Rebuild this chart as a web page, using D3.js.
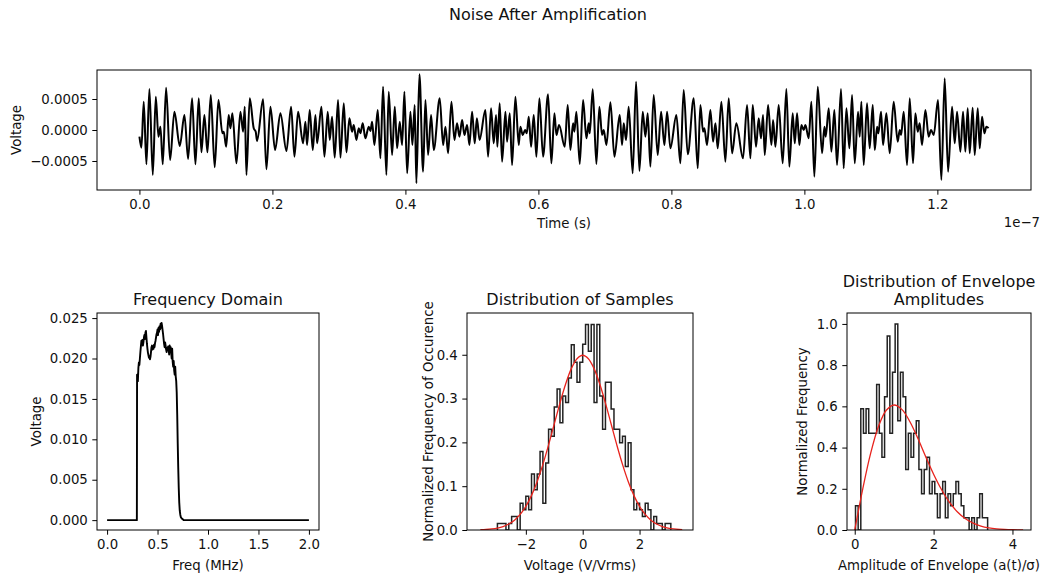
<!DOCTYPE html>
<html>
<head>
<meta charset="utf-8">
<script src="https://cdn.jsdelivr.net/npm/d3@7"></script>
<style>
  body { margin: 0; background: #fff; }
  text { font-family: "DejaVu Sans", sans-serif; fill: #111; }
  .tick text { font-size: 13.3px; }
  .lbl { font-size: 13.3px; }
  .ttl { font-size: 16px; }
</style>
</head>
<body>
<svg id="chart" width="1042" height="578"></svg>
<script>
// ---- data ----
// noise trace: [time (ns), voltage (mV)] at the turning points of the waveform
const noiseTrace = [
  [0,-0.108],[0.30,-0.285],[0.65,0.457],[1.05,-0.554],[1.50,0.661],[2.01,-0.726],[2.46,0.538],[2.86,-0.108],
  [3.16,0.054],[3.51,-0.554],[4.01,0.683],[4.61,-0.484],[5.26,0.296],[6.07,-0.258],[6.77,0.242],[7.32,-0.468],
  [7.92,0.511],[8.42,-0.554],[8.92,0.511],[9.32,-0.360],[9.77,0.242],[10.23,-0.360],[10.73,0.565],[11.32,-0.602],
  [11.88,0.484],[12.48,-0.054],[12.68,-0.027],[13.04,-0.269],[13.43,0.242],[13.68,0.027],[13.98,0.269],[14.59,-0.538],
  [15.19,0.296],[15.59,-0.027],[15.84,0.376],[16.09,-0.726],[16.59,0.511],[17.19,0.027],[17.49,-0.027],[17.69,-0.177],
  [18.60,0.495],[19.10,-0.634],[19.70,0.376],[20.40,-0.323],[21.20,0.269],[22.11,-0.339],[22.81,0.376],[23.31,-0.430],
  [23.86,0.296],[24.61,-0.215],[24.96,0.134],[25.21,-0.242],[25.61,0.323],[26.07,-0.323],[26.47,0.242],[26.72,-0.215],
  [27.37,0.376],[27.82,-0.430],[28.32,0.296],[28.62,-0.161],[28.97,0.215],[29.37,-0.446],[29.87,0.484],[30.23,-0.446],
  [30.73,0.430],[31.13,-0.360],[31.58,0.188],[31.98,-0.027],[32.23,0.081],[32.63,-0.161],[32.98,0.027],[33.23,-0.054],
  [33.58,0.108],[33.98,-0.134],[34.48,0.054],[34.74,-0.016],[34.99,0.134],[35.34,-0.242],[35.84,0.323],[36.24,-0.457],
  [36.64,0.699],[37.14,-0.726],[37.49,0.618],[38.00,-0.403],[38.40,0.376],[38.75,-0.296],[39.15,0.134],[39.50,-0.242],
  [39.85,0.618],[40.26,-0.699],[40.75,0.296],[41.05,-0.242],[41.40,0.403],[41.65,-0.860],[42.11,0.898],[42.66,-0.672],
  [43.01,0.484],[43.41,-0.403],[43.86,0.242],[44.26,-0.323],[45.16,0.511],[45.67,-0.242],[46.02,0.054],[46.42,-0.376],
  [46.92,0.457],[47.37,-0.161],[47.77,0.108],[48.12,-0.108],[48.53,0.161],[48.87,-0.081],[49.28,0.081],[49.62,-0.242],
  [50.03,0.296],[50.42,-0.215],[50.75,0.188],[51.15,-0.161],[52.03,0.323],[52.43,-0.430],[52.88,0.349],[53.28,-0.215],
  [53.63,0.242],[53.83,-0.269],[54.18,0.430],[54.54,-0.511],[55.04,0.296],[55.29,-0.188],[55.69,0.269],[56.04,-0.565],
  [56.54,0.538],[57.04,-0.242],[57.29,0.054],[57.64,-0.081],[58.00,0.0],[58.25,-0.054],[58.55,0.215],[58.90,-0.269],
  [59.30,0.242],[59.70,-0.430],[60.15,0.511],[60.70,-0.430],[61.45,0.575],[61.95,-0.538],[62.41,0.269],[62.71,-0.081],
  [63.11,0.081],[63.96,-0.269],[64.41,0.403],[64.81,-0.323],[65.21,0.108],[65.41,-0.027],[65.71,0.296],[66.22,-0.548],
  [66.72,0.484],[67.22,-0.134],[67.57,0.108],[67.72,-0.054],[68.17,0.656],[68.72,-0.548],[69.17,0.376],[69.57,-0.081],
  [69.82,0.0],[70.23,-0.242],[70.83,0.446],[71.43,-0.430],[72.23,0.242],[72.58,-0.242],[72.83,0.108],[73.18,-0.161],
  [73.58,0.376],[74.18,-0.699],[74.69,0.780],[75.19,-0.661],[75.69,0.296],[76.09,-0.108],[76.44,0.269],[76.84,-0.591],
  [77.34,0.565],[77.94,-0.403],[78.45,0.296],[78.95,-0.242],[79.35,0.296],[79.85,-0.296],[80.75,0.242],[81.35,-0.538],
  [81.85,0.645],[82.46,-0.392],[83.36,0.511],[83.96,-0.618],[84.36,0.403],[84.76,-0.027],[84.96,0.027],[85.36,-0.242],
  [85.86,0.323],[86.27,-0.188],[86.62,0.108],[86.97,-0.296],[87.52,0.457],[88.12,-0.511],[88.62,0.511],[89.12,-0.376],
  [89.77,0.108],[90.77,-0.457],[91.38,0.403],[91.88,-0.457],[92.23,0.403],[92.73,-0.269],[93.13,0.188],[93.48,-0.134],
  [93.78,0.242],[94.04,-0.403],[94.54,0.403],[95.04,-0.242],[95.29,0.161],[95.64,-0.269],[96.14,0.403],[96.74,-0.538],
  [97.29,0.661],[97.74,-0.591],[98.24,0.269],[98.55,-0.215],[98.90,0.269],[99.25,-0.242],[99.55,0.081],[99.90,0.0],
  [100.15,0.081],[100.65,-0.134],[101.05,0.457],[101.50,-0.753],[102.01,0.699],[102.66,-0.376],[103.01,0.054],[103.21,-0.108],
  [103.66,0.349],[104.06,-0.349],[104.51,0.323],[104.91,-0.565],[105.51,0.661],[105.91,-0.618],[106.32,0.349],[106.77,-0.296],
  [107.17,0.565],[107.57,-0.538],[108.07,0.296],[108.32,-0.108],[108.57,0.457],[108.92,-0.565],[109.42,0.430],[109.82,-0.296],
  [110.28,0.403],[110.58,-0.323],[110.93,0.054],[111.13,-0.054],[111.53,0.296],[111.83,-0.242],[112.33,0.269],[112.83,-0.376],
  [113.43,0.457],[114.03,-0.188],[114.34,0.0],[114.54,-0.081],[114.94,0.296],[115.44,-0.565],[115.84,0.511],[116.34,-0.538],
  [116.69,0.269],[117.04,-0.027],[117.34,0.108],[117.69,-0.242],[118.20,0.323],[118.69,-0.108],[119.05,0.0],[119.45,-0.081],
  [120.10,0.484],[120.60,-0.806],[121.10,0.833],[121.61,-0.672],[122.21,0.376],[122.61,-0.215],[122.96,0.296],[123.46,-0.349],
  [123.86,0.296],[124.21,-0.349],[124.56,0.349],[124.86,-0.376],[125.31,0.360],[125.61,-0.403],[126.07,0.349],[126.37,-0.296],
  [126.72,0.215],[127.07,-0.054],[127.37,0.054],[127.70,0.030]
];
const timeTicks = [0, 20, 40, 60, 80, 100, 120];   // ns, shown as x1e-7 s
const voltTicks = [-0.5, 0, 0.5];                  // mV, shown in V

// frequency domain magnitude
const freqMHz = [0, 0.295, 0.297, 0.300, 0.305, 0.310, 0.315, 0.320, 0.325, 0.330, 0.335, 0.340, 0.345,
  0.350, 0.355, 0.360, 0.365, 0.370, 0.375, 0.380, 0.385, 0.390, 0.395, 0.400, 0.405, 0.410, 0.415,
  0.420, 0.425, 0.430, 0.435, 0.440, 0.445, 0.450, 0.455, 0.460, 0.465, 0.470, 0.475, 0.480, 0.485,
  0.490, 0.495, 0.500, 0.505, 0.510, 0.515, 0.520, 0.525, 0.530, 0.535, 0.540, 0.545, 0.550, 0.555,
  0.560, 0.565, 0.570, 0.575, 0.580, 0.585, 0.590, 0.595, 0.600, 0.605, 0.610, 0.615, 0.620, 0.625,
  0.630, 0.635, 0.640, 0.645, 0.650, 0.655, 0.660, 0.665, 0.670, 0.675, 0.680, 0.685, 0.690, 0.695,
  0.700, 0.705, 0.710, 0.715, 0.720, 0.725, 0.730, 0.740, 0.750, 0.760, 2.0];
const freqVolt = [0, 0, 0.0180, 0.0178, 0.0172, 0.0188, 0.0195, 0.0192, 0.0200, 0.0208, 0.0215, 0.0222, 0.0219,
  0.0223, 0.0216, 0.0220, 0.0226, 0.0229, 0.0224, 0.0232, 0.0234, 0.0226, 0.0218, 0.0212, 0.0207, 0.0204, 0.0201,
  0.0203, 0.0199, 0.0202, 0.0208, 0.0214, 0.0216, 0.0211, 0.0215, 0.0212, 0.0217, 0.0214, 0.0219, 0.0222, 0.0226,
  0.0230, 0.0232, 0.0236, 0.0229, 0.0238, 0.0233, 0.0240, 0.0236, 0.0243, 0.0238, 0.0244, 0.0240, 0.0235, 0.0230,
  0.0224, 0.0218, 0.0214, 0.0220, 0.0216, 0.0211, 0.0208, 0.0213, 0.0210, 0.0215, 0.0212, 0.0205, 0.0216, 0.0210,
  0.0214, 0.0207, 0.0200, 0.0212, 0.0196, 0.0190, 0.0197, 0.0185, 0.0180, 0.0190, 0.0178, 0.0172, 0.0158, 0.0130,
  0.0095, 0.0065, 0.0040, 0.0022, 0.0012, 0.0007, 0.0004, 0.0002, 0.0001, 0.0, 0.0];
const freqTicks = [0, 0.5, 1.0, 1.5, 2.0];
const freqVoltTicks = [0, 0.005, 0.010, 0.015, 0.020, 0.025];

// distribution of samples (normalised histogram)
const sampleFirstEdge = -3.0, sampleBinWidth = 0.1;
const sampleDensity = [0.015, 0.015, 0.015, 0, 0.015, 0.031, 0.031, 0, 0.061, 0.046, 0.077, 0.046, 0.128,
  0.092, 0.128, 0.179, 0.061, 0.153, 0.230, 0.214, 0.281, 0.322, 0.245, 0.306, 0.291, 0.347, 0.423, 0.383,
  0.337, 0.383, 0.424, 0.469, 0.408, 0.469, 0.291, 0.469, 0.306, 0.230, 0.337, 0.337, 0.276, 0.230, 0.230,
  0.199, 0.214, 0.145, 0.199, 0.092, 0.046, 0.061, 0.046, 0.031, 0.061, 0.046, 0, 0.031, 0.015, 0.015, 0,
  0.015, 0.015];
const gaussX = [-3.6, -3.4, -3.2, -3.0, -2.8, -2.6, -2.4, -2.2, -2.0, -1.8, -1.6, -1.4, -1.2, -1.0, -0.8, -0.6,
  -0.4, -0.2, 0, 0.2, 0.4, 0.6, 0.8, 1.0, 1.2, 1.4, 1.6, 1.8, 2.0, 2.2, 2.4, 2.6, 2.8, 3.0, 3.2, 3.4, 3.5];
const gaussY = [0.0006, 0.0012, 0.0024, 0.0044, 0.0079, 0.0136, 0.0224, 0.0355, 0.0540, 0.0790, 0.1109, 0.1497,
  0.1942, 0.2420, 0.2897, 0.3332, 0.3683, 0.3910, 0.3989, 0.3910, 0.3683, 0.3332, 0.2897, 0.2420, 0.1942,
  0.1497, 0.1109, 0.0790, 0.0540, 0.0355, 0.0224, 0.0136, 0.0079, 0.0044, 0.0024, 0.0012, 0.0009];
const sampleXTicks = [-2, 0, 2];
const sampleYTicks = [0, 0.1, 0.2, 0.3, 0.4];

// distribution of envelope amplitudes
const envFirstEdge = 0.02, envBinWidth = 0.067;
const envDensity = [0.118, 0, 0.588, 0.470, 0.588, 0.470, 0.470, 0.470, 0.706, 0.470, 0.353, 0.647, 0.941,
  0.470, 0.765, 1.0, 0.530, 0.765, 0.647, 0.294, 0.470, 0.353, 0.470, 0.530, 0.294, 0.176, 0.294, 0.353,
  0.176, 0.235, 0.176, 0.059, 0.176, 0.235, 0.059, 0.176, 0.118, 0.176, 0.235, 0.176, 0.118, 0.059, 0.059,
  0, 0.059, 0, 0.059, 0.176, 0.059, 0.059];
const rayX = [0, 0.2, 0.4, 0.6, 0.8, 1.0, 1.2, 1.4, 1.6, 1.8, 2.0, 2.2, 2.4, 2.6, 2.8, 3.0, 3.2, 3.4, 3.6,
  3.8, 4.0, 4.27];
const rayY = [0, 0.1960, 0.3692, 0.5012, 0.5809, 0.6065, 0.5841, 0.5254, 0.4449, 0.3555, 0.2707, 0.1964,
  0.1347, 0.0887, 0.0556, 0.0333, 0.0190, 0.0105, 0.0055, 0.0028, 0.0013, 0.0004];
const envXTicks = [0, 2, 4];
const envYTicks = [0, 0.2, 0.4, 0.6, 0.8, 1.0];

// ---- drawing ----
const svg = d3.select("#chart");
let clipId = 0;

function panel(box, x, y, xTicks, yTicks, xFmt, yFmt) {
  x.range([0, box.w]);
  y.range([box.h, 0]);
  const g = svg.append("g").attr("transform", `translate(${box.left},${box.top})`);
  const id = "clip" + (clipId++);
  g.append("clipPath").attr("id", id)
    .append("rect").attr("width", box.w).attr("height", box.h);
  g.append("g").attr("transform", `translate(0,${box.h})`).style("color", "#000")
    .call(d3.axisBottom(x).tickValues(xTicks).tickFormat(xFmt).tickSize(4.7).tickPadding(4.5))
    .call(s => s.select(".domain").remove());
  g.append("g").style("color", "#000")
    .call(d3.axisLeft(y).tickValues(yTicks).tickFormat(yFmt).tickSize(4.7).tickPadding(4.5))
    .call(s => s.select(".domain").remove());
  const plot = g.append("g").attr("clip-path", `url(#${id})`);
  g.append("rect").attr("width", box.w).attr("height", box.h)
    .attr("fill", "none").attr("stroke", "#000").attr("stroke-width", 1);
  return { g, plot };
}

function stepPath(x, y, firstEdge, width, values) {
  let p = `M${x(firstEdge)},${y(0)}`;
  values.forEach((v, i) => {
    p += `V${y(v)}H${x(firstEdge + (i + 1) * width)}`;
  });
  return p + `V${y(0)}`;
}

function label(g, text, x, y, rotate, cls) {
  const t = g.append("text").attr("class", cls || "lbl")
    .attr("text-anchor", "middle").attr("dy", "0.35em").text(text);
  if (rotate) t.attr("transform", `translate(${x},${y}) rotate(-90)`);
  else t.attr("x", x).attr("y", y);
  return t;
}

// main title
svg.append("text").attr("class", "ttl").attr("x", 548).attr("y", 20)
  .attr("text-anchor", "middle").text("Noise After Amplification");

// top: time series
{
  const box = { left: 97, top: 70, w: 934, h: 120 };
  const x = d3.scaleLinear().domain([-6.38, 134.08]);
  const y = d3.scaleLinear().domain([-0.968, 0.968]);
  const { g, plot } = panel(box, x, y, timeTicks, voltTicks,
    d => d3.format(".1f")(d / 100), d => d3.format(".4f")(d / 1000));
  plot.append("path").datum(noiseTrace)
    .attr("fill", "none").attr("stroke", "#000").attr("stroke-width", 2)
    .attr("stroke-linejoin", "round")
    .attr("d", d3.line().x(d => x(d[0])).y(d => y(d[1])).curve(d3.curveMonotoneX));
  label(g, "Time (s)", box.w / 2, 153);
  label(g, "Voltage", -81, box.h / 2, true);
  g.append("text").attr("class", "lbl").attr("x", 943).attr("y", 152)
    .attr("text-anchor", "end").attr("dy", "0.35em").text("1e\u22127");
}

// bottom-left: frequency domain
{
  const box = { left: 97, top: 313, w: 222, h: 217 };
  const x = d3.scaleLinear().domain([-0.1, 2.1]);
  const y = d3.scaleLinear().domain([-0.00122, 0.02563]);
  const { g, plot } = panel(box, x, y, freqTicks, freqVoltTicks, d3.format(".1f"), d3.format(".3f"));
  plot.append("path").datum(d3.zip(freqMHz, freqVolt))
    .attr("fill", "none").attr("stroke", "#000").attr("stroke-width", 1.9)
    .attr("stroke-linejoin", "round")
    .attr("d", d3.line().x(d => x(d[0])).y(d => y(d[1])));
  label(g, "Frequency Domain", box.w / 2, -14, false, "ttl");
  label(g, "Freq (MHz)", box.w / 2, 252);
  label(g, "Voltage", -61, box.h / 2, true);
}

// bottom-middle: distribution of samples
{
  const box = { left: 467, top: 313, w: 226, h: 217 };
  const x = d3.scaleLinear().domain([-4.07, 3.88]);
  const y = d3.scaleLinear().domain([0, 0.4953]);
  const { g, plot } = panel(box, x, y, sampleXTicks, sampleYTicks, d3.format("d"), d3.format(".1f"));
  plot.append("path")
    .attr("fill", "none").attr("stroke", "#222").attr("stroke-width", 1.5)
    .attr("d", stepPath(x, y, sampleFirstEdge, sampleBinWidth, sampleDensity));
  plot.append("path").datum(d3.zip(gaussX, gaussY))
    .attr("fill", "none").attr("stroke", "#e8231d").attr("stroke-width", 1.3)
    .attr("d", d3.line().x(d => x(d[0])).y(d => y(d[1])).curve(d3.curveCatmullRom));
  label(g, "Distribution of Samples", box.w / 2, -14, false, "ttl");
  label(g, "Voltage (V/Vrms)", box.w / 2, 252);
  label(g, "Normalized Frequency of Occurence", -39, box.h / 2, true);
}

// bottom-right: distribution of envelope amplitudes
{
  const box = { left: 847, top: 313, w: 184, h: 217 };
  const x = d3.scaleLinear().domain([-0.196, 4.47]);
  const y = d3.scaleLinear().domain([0, 1.053]);
  const { g, plot } = panel(box, x, y, envXTicks, envYTicks, d3.format("d"), d3.format(".1f"));
  plot.append("path")
    .attr("fill", "none").attr("stroke", "#222").attr("stroke-width", 1.5)
    .attr("d", stepPath(x, y, envFirstEdge, envBinWidth, envDensity));
  plot.append("path").datum(d3.zip(rayX, rayY))
    .attr("fill", "none").attr("stroke", "#e8231d").attr("stroke-width", 1.3)
    .attr("d", d3.line().x(d => x(d[0])).y(d => y(d[1])).curve(d3.curveCatmullRom));
  const t = g.append("text").attr("class", "ttl").attr("text-anchor", "middle");
  t.append("tspan").attr("x", box.w / 2).attr("y", -32).attr("dy", "0.35em").text("Distribution of Envelope");
  t.append("tspan").attr("x", box.w / 2).attr("y", -14).attr("dy", "0.35em").text("Amplitudes");
  label(g, "Amplitude of Envelope (a(t)/\u03c3)", box.w / 2, 252);
  label(g, "Normalized Frequency", -45, box.h / 2, true);
}
</script>
</body>
</html>
